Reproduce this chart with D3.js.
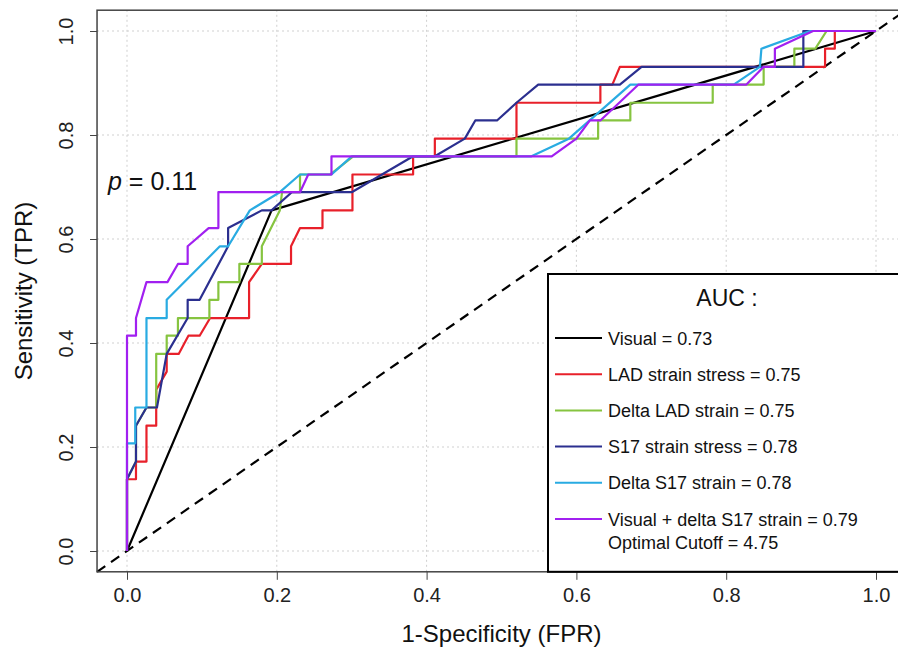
<!DOCTYPE html>
<html><head><meta charset="utf-8">
<script src="https://cdn.jsdelivr.net/npm/d3@7"></script>
<style>body{margin:0;background:#fff}svg{display:block}text{font-family:"Liberation Sans",Arial,sans-serif}</style>
</head><body><svg id="c" width="898" height="654"></svg>
<script>
const seriesNames = ["Visual","LAD strain stress","Delta LAD strain","S17 strain stress","Delta S17 strain","Visual + delta S17 strain"];
const seriesColors = ["#000000","#e8202a","#86c440","#2b2f8f","#29abe2","#a120f0"];
const aucValues = ["0.73","0.75","0.75","0.78","0.78","0.79"];
const legendExtra = "Optimal Cutoff = 4.75";
const xTicks = [0,0.2,0.4,0.6,0.8,1.0];
const yTicks = [0,0.2,0.4,0.6,0.8,1.0];
const pValueLabel = "0.11";

const fprVisual = [0,0.193,1];
const tprVisual = [0,0.655,1];

const fprLAD = [0,0,0.012,0.012,0.026,0.026,0.039,0.039,0.053,0.053,0.069,0.082,0.097,0.111,0.163,0.163,0.180,0.219,0.219,0.231,0.261,0.261,0.301,0.301,0.382,0.382,0.411,0.411,0.520,0.520,0.632,0.632,0.648,0.658,0.932,0.932,0.945,0.945,1];
const tprLAD = [0,0.138,0.138,0.172,0.172,0.241,0.241,0.310,0.345,0.379,0.379,0.414,0.414,0.448,0.448,0.517,0.552,0.552,0.586,0.621,0.621,0.655,0.655,0.724,0.724,0.759,0.759,0.793,0.793,0.862,0.862,0.897,0.897,0.931,0.931,0.966,0.966,1,1];

const fprDeltaLAD = [0,0,0.012,0.012,0.026,0.039,0.039,0.039,0.053,0.053,0.068,0.068,0.110,0.110,0.122,0.122,0.150,0.150,0.180,0.180,0.204,0.207,0.231,0.231,0.271,0.302,0.520,0.520,0.629,0.629,0.672,0.672,0.782,0.782,0.850,0.850,0.891,0.891,0.919,0.934,1];
const tprDeltaLAD = [0,0.138,0.172,0.241,0.276,0.276,0.310,0.379,0.379,0.414,0.414,0.448,0.448,0.483,0.483,0.517,0.517,0.552,0.552,0.586,0.655,0.690,0.690,0.724,0.724,0.759,0.759,0.793,0.793,0.828,0.828,0.862,0.862,0.897,0.897,0.931,0.931,0.966,0.966,1,1];

const fprS17 = [0,0,0.012,0.012,0.026,0.040,0.053,0.081,0.081,0.097,0.135,0.135,0.180,0.193,0.220,0.300,0.382,0.411,0.451,0.465,0.494,0.520,0.549,0.658,0.687,0.903,0.903,1];
const tprS17 = [0,0.138,0.172,0.241,0.276,0.276,0.379,0.448,0.483,0.483,0.586,0.621,0.655,0.655,0.690,0.690,0.759,0.759,0.793,0.828,0.828,0.862,0.897,0.897,0.931,0.931,1,1];

const fprDeltaS17 = [0,0,0.011,0.011,0.026,0.026,0.053,0.053,0.124,0.135,0.164,0.204,0.231,0.273,0.300,0.540,0.590,0.672,0.810,0.845,0.847,0.912,1];
const tprDeltaS17 = [0,0.207,0.207,0.276,0.276,0.448,0.448,0.483,0.586,0.586,0.655,0.690,0.724,0.724,0.759,0.759,0.793,0.897,0.897,0.931,0.966,1,1];

const fprCombo = [0,0,0.012,0.012,0.026,0.054,0.068,0.081,0.081,0.109,0.122,0.122,0.231,0.242,0.273,0.273,0.567,0.600,0.618,0.632,0.683,0.827,0.850,0.865,0.865,0.916,1];
const tprCombo = [0,0.414,0.414,0.448,0.517,0.517,0.552,0.552,0.586,0.621,0.621,0.690,0.690,0.724,0.724,0.759,0.759,0.793,0.828,0.828,0.897,0.897,0.931,0.931,0.966,1,1];

const seriesFpr = [fprVisual,fprLAD,fprDeltaLAD,fprS17,fprDeltaS17,fprCombo];
const seriesTpr = [tprVisual,tprLAD,tprDeltaLAD,tprS17,tprDeltaS17,tprCombo];

const svg = d3.select("#c");
const x = d3.scaleLinear().domain([0,1]).range([127,876]);
const y = d3.scaleLinear().domain([0,1]).range([551,31]);
const x0 = x(-0.04), x1 = x(1.04), y0 = y(-0.04), y1 = y(1.04);

// grid
const grid = svg.append("g");
xTicks.forEach(t=>grid.append("line").attr("x1",x(t)).attr("x2",x(t)).attr("y1",y0).attr("y2",y1)
  .attr("stroke","#cfcfcf").attr("stroke-width",1).attr("stroke-dasharray","2,3"));
yTicks.forEach(t=>grid.append("line").attr("y1",y(t)).attr("y2",y(t)).attr("x1",x0).attr("x2",x1)
  .attr("stroke","#cfcfcf").attr("stroke-width",1).attr("stroke-dasharray","2,3"));

// axes
const xAxis = d3.axisBottom(x).tickValues(xTicks).tickFormat(d3.format(".1f")).tickSize(8).tickPadding(8);
const gx = svg.append("g").attr("transform",`translate(0,${y0})`).call(xAxis);
gx.select(".domain").remove();
gx.selectAll("line").attr("stroke","#444").attr("stroke-width",1);
gx.selectAll("text").attr("font-size",20).attr("fill","#222").attr("font-family","Liberation Sans, Arial, sans-serif");

const yAxis = d3.axisLeft(y).tickValues(yTicks).tickFormat(d3.format(".1f")).tickSize(7).tickPadding(0);
const gy = svg.append("g").attr("transform",`translate(${x0},0)`).call(yAxis);
gy.select(".domain").remove();
gy.selectAll("line").attr("stroke","#444").attr("stroke-width",1);
gy.selectAll("text").attr("font-size",20).attr("fill","#222").attr("font-family","Liberation Sans, Arial, sans-serif")
  .attr("x",0).attr("dy",0).attr("text-anchor","middle")
  .attr("transform",function(d){return `translate(-24,0) rotate(-90)`;});

// chance line
svg.append("line").attr("x1",x(-0.04)).attr("y1",y(-0.04)).attr("x2",x(1.04)).attr("y2",y(1.04))
  .attr("stroke","#000").attr("stroke-width",2.2).attr("stroke-dasharray","10,7");

// ROC curves
const line = d3.line().x(d=>x(d[0])).y(d=>y(d[1]));
seriesFpr.forEach((f,i)=>{
  const pts = f.map((v,j)=>[v,seriesTpr[i][j]]);
  svg.append("path").datum(pts).attr("d",line).attr("fill","none")
    .attr("stroke",seriesColors[i]).attr("stroke-width",2.2).attr("stroke-linejoin","round");
});

// plot box
svg.append("rect").attr("x",x0).attr("y",y1).attr("width",x1-x0).attr("height",y0-y1)
  .attr("fill","none").attr("stroke","#444").attr("stroke-width",1.5);

// p label
const pt = svg.append("text").attr("x",108).attr("y",190).attr("font-size",25).attr("fill","#111");
pt.append("tspan").attr("font-style","italic").text("p");
pt.append("tspan").text(" = "+pValueLabel);

// legend
const lx = 548, ly = 274;
svg.append("rect").attr("x",lx).attr("y",ly).attr("width",380).attr("height",y0-ly)
  .attr("fill","#fff").attr("stroke","#000").attr("stroke-width",2);
svg.append("text").attr("x",727).attr("y",306).attr("text-anchor","middle").attr("font-size",23).attr("fill","#111").text("AUC :");
seriesNames.forEach((n,i)=>{
  const yy = 338 + i*36.2;
  svg.append("line").attr("x1",555).attr("x2",602).attr("y1",yy).attr("y2",yy).attr("stroke",seriesColors[i]).attr("stroke-width",2);
  svg.append("text").attr("x",608).attr("y",yy+6.5).attr("font-size",18).attr("fill","#111").text(n+" = "+aucValues[i]);
});
svg.append("text").attr("x",608).attr("y",338+5*36.2+6.5+23.5).attr("font-size",18).attr("fill","#111").text(legendExtra);

// axis titles
svg.append("text").attr("x",(x0+x1)/2).attr("y",642).attr("text-anchor","middle").attr("font-size",24).attr("fill","#111").text("1-Specificity (FPR)");
svg.append("text").attr("transform",`translate(32,${(y0+y1)/2}) rotate(-90)`).attr("text-anchor","middle").attr("font-size",24).attr("fill","#111").text("Sensitivity (TPR)");
</script></body></html>
